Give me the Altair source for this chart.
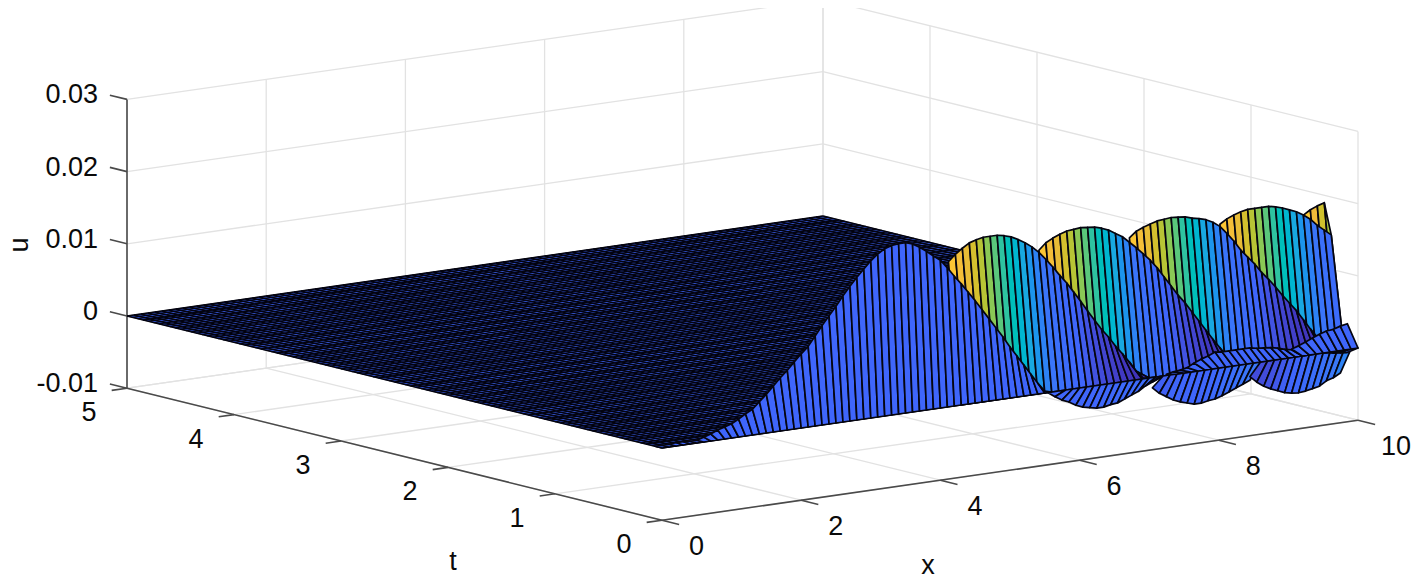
import altair as alt
import pandas as pd

alt.data_transformers.disable_max_rows()

# ---- axis ticks ----
x_ticks = [0, 2, 4, 6, 8, 10]
t_ticks = [0, 1, 2, 3, 4, 5]
u_ticks = [-0.01, 0, 0.01, 0.02, 0.03]
u_labels = ["-0.01", "0", "0.01", "0.02", "0.03"]
U_MIN, U_MAX = -0.01, 0.03
X_MAX, T_MAX = 10, 5

# ---- surface sheets: grid position along x, height at the far edge, colour value ----
wall1_x0 = 0.0
wall1_u = [0, 0, 0, .0001, .0001, 0, 0, .0003, .0006, .0010, .0013, .0016, .0021, .0027, .0032, .0041,
           .0050, .0060, .0070, .0079, .0089, .0099, .0108, .0121, .0134, .0146, .0158, .0171, .0183,
           .0194, .0204, .0214, .0222, .0228, .0231, .0232, .0232, .0229, .0223, .0216, .0208, .0201,
           .0189, .0176, .0164, .0151, .0138, .0124, .0110, .0096, .0082, .0067, .0053, .0039, .0025,
           .0011, -.0001]
wall2_x0 = 4.3
wall2_u = [.0194, .0203, .0210, .0216, .0219, .0221, .0221, .0221, .0219, .0216, .0211, .0205, .0198,
           .0189, .0178, .0166, .0153, .0141, .0127, .0113, .0098, .0084, .0070, .0058, .0044, .0032,
           .0019, .0005, -.0006]
wall3_x0 = 5.6
wall3_u = [.0192, .0201, .0206, .0210, .0213, .0214, .0215, .0214, .0213, .0210, .0206, .0200, .0194,
           .0185, .0176, .0166, .0156, .0144, .0130, .0116, .0102, .0090, .0076, .0062, .0048, .0034,
           .0021, .0008]
wall4_x0 = 6.9
wall4_u = [.0191, .0199, .0203, .0206, .0209, .0210, .0211, .0210, .0209, .0206, .0204, .0201, .0196,
           .0189, .0178, .0166, .0152, .0141, .0130, .0117, .0106, .0094, .0081, .0069, .0057, .0043,
           .0029, .0016]
wall5_x0 = 8.2
wall5_u = [.0192, .0198, .0202, .0205, .0207, .0207, .0207, .0207, .0205, .0202, .0198, .0194, .0188,
           .0181, .0171, .0163, .0155]
wall6_x0 = 9.4
wall6_u = [.0188, .0194, .0198, .0201, .0155]
wall_colors = [.0245, .0232, .0220, .0208, .0195, .0180, .0165, .0150, .0135, .0118, .0100, .0080, .0060,
               .0042, .0028, .0016, .0007, 0, -.0007, -.0015, -.0020, -.0026, -.0030, -.0035, -.0038,
               -.0040, -.0042, -.0043, -.0044]
wall6_colors = [.0250, .0225, .0205, .0190, .0190]

ripple1_x0 = 5.7
ripple1_u = [-.0006, -.0013, -.0019, -.0023, -.0029, -.0033, -.0035, -.0037, -.0037, -.0035, -.0034,
             -.0030, -.0026, -.0022, -.0016, -.0012, -.0006]
ripple1_c = [0, 0, 0, 0, 0, 0, 0, .0005, .0005, .001, .001, .001, .0015, .0015, .002, .002, .002]
ripple2_x0 = 7.2
ripple2_u = [-.0020, -.0029, -.0035, -.0041, -.0045, -.0048, -.0051, -.0051, -.0049, -.0048, -.0045,
             -.0041, -.0037, -.0033, -.0029]
ripple2_c = [-.0005, -.0005, 0, 0, 0, 0, 0, .0005, .001, .0015, .002, .003, .004, .005, .006]
ripple3_x0 = 8.6
ripple3_u = [-.0024, -.0033, -.0040, -.0045, -.0049, -.0053, -.0055, -.0056, -.0055, -.0053, -.0051,
             -.0045, -.0042, -.0037]
ripple3_c = [-.002, -.002, -.0015, -.001, -.0005, 0, .0005, .0015, .002, .003, .004, .005, .006, .007]
leafA_x0 = 7.4
leafA_u = [-.0004, -.0002, -.0001, .0001, .0006, .0010, .0013, .0017, .0016, .0016, .0016, .0016, .0016,
           .0014, .0013, .0012, .0010, .0007, .0005, .0002, -.0001]
leafB_x0 = 9.2
leafB_u = [.0006, .0009, .0013, .0017, .0021, .0024, .0025, .0028, .0030]
leafC_x0 = 9.5
leafC_u = [-.0004, -.0005, -.0006, -.0008, -.0009, -.0010]

# (first x, heights, colour values, t of the far edge)
sheets = [
    (wall6_x0, wall6_u, wall6_colors, .12),
    (wall5_x0, wall5_u, wall_colors, .12),
    (wall4_x0, wall4_u, wall_colors, .12),
    (wall3_x0, wall3_u, wall_colors, .12),
    (wall2_x0, wall2_u, wall_colors, .12),
    (wall1_x0, wall1_u, [0] * len(wall1_u), .065),
    (ripple1_x0, ripple1_u, ripple1_c, .10),
    (ripple2_x0, ripple2_u, ripple2_c, .10),
    (ripple3_x0, ripple3_u, ripple3_c, .10),
    (leafA_x0, leafA_u, [0] * len(leafA_u), .10),
    (leafC_x0, leafC_u, [0] * len(leafC_u), .10),
    (leafB_x0, leafB_u, [0] * len(leafB_u), .10),
]

# colour map (parula-like), keyed by u
cmap_u = [-.005, 0, .005, .0075, .01, .0125, .015, .0175, .02, .0225, .025, .03]
cmap_c = ["#3e26a8", "#3f66fb", "#3a78f8", "#2a90ee", "#18a8e0", "#0dbbc8", "#2ec3a0", "#7cc860",
          "#c6c22c", "#f0ba3a", "#fec832", "#f9fb15"]


# oblique view of the box, in picture units
def proj(x, t, u):
    return 662 + 69.6 * x - 107 * t, 448 - 10 * x - 26.4 * t - 7220 * u


def seg(a, b):
    p, q = proj(*a), proj(*b)
    return {"x0": p[0], "y0": p[1], "x1": q[0], "y1": q[1]}


# quads of the steep sheets
rows = []
qid = 0
for x0, us, cs, tw in sheets:
    for i in range(len(us) - 1):
        xa, xb = x0 + 0.1 * i, x0 + 0.1 * (i + 1)
        corners = [(xa, 0, 0), (xb, 0, 0), (xb, tw, us[i + 1]), (xa, tw, us[i]), (xa, 0, 0)]
        for k, c in enumerate(corners):
            px, py = proj(*c)
            rows.append({"px": px, "py": py, "k": k, "q": qid, "c": cs[i]})
        qid += 1
quads = pd.DataFrame(rows)

# flat sheet
flat_rows = []
for k, c in enumerate([(0, 0, 0), (10, 0, 0), (10, 5, 0), (0, 5, 0), (0, 0, 0)]):
    px, py = proj(*c)
    flat_rows.append({"px": px, "py": py, "k": k, "q": 0, "c": 0})
flat = pd.DataFrame(flat_rows)

mesh = [seg((i / 10, 0, 0), (i / 10, 5, 0)) for i in range(101)]
mesh += [seg((0, j / 20, 0), (10, j / 20, 0)) for j in range(101)]
mesh = pd.DataFrame(mesh)

# grid and box
grid = []
for x in x_ticks:
    grid.append(seg((x, 0, U_MIN), (x, T_MAX, U_MIN)))
    grid.append(seg((x, T_MAX, U_MIN), (x, T_MAX, U_MAX)))
for t in t_ticks:
    grid.append(seg((0, t, U_MIN), (X_MAX, t, U_MIN)))
    grid.append(seg((X_MAX, t, U_MIN), (X_MAX, t, U_MAX)))
for u in u_ticks:
    grid.append(seg((0, T_MAX, u), (X_MAX, T_MAX, u)))
    grid.append(seg((X_MAX, T_MAX, u), (X_MAX, 0, u)))
grid = pd.DataFrame(grid)

axes = [seg((0, T_MAX, U_MIN), (0, T_MAX, U_MAX)), seg((0, 0, U_MIN), (0, T_MAX, U_MIN)),
        seg((0, 0, U_MIN), (X_MAX, 0, U_MIN))]
for u in u_ticks:
    axes.append(seg((0, T_MAX, u), (0, T_MAX + 0.16, u)))
for t in t_ticks:
    axes.append(seg((0, t, U_MIN), (-0.22, t, U_MIN)))
for x in x_ticks:
    axes.append(seg((x, 0, U_MIN), (x, -0.16, U_MIN)))
axes = pd.DataFrame(axes)

labels = []
for u, s in zip(u_ticks, u_labels):
    p = proj(0, T_MAX, u)
    labels.append({"px": p[0] - 29, "py": p[1] - 4, "s": s, "a": "right"})
for t in t_ticks:
    p = proj(0, t, U_MIN)
    labels.append({"px": p[0] - 38, "py": p[1] + 25, "s": str(t), "a": "center"})
for x in x_ticks:
    p = proj(x, 0, U_MIN)
    labels.append({"px": p[0] + (27 if x < 10 else 23), "py": p[1] + 27, "s": str(x), "a": "left"})
labels = pd.DataFrame(labels)

W, H = 1403, 574
X = alt.Scale(domain=[8, 8 + W], nice=False, zero=False)
Y = alt.Scale(domain=[8 + H, 8], nice=False, zero=False)
FONT = "Liberation Sans"
pxe = alt.X("px:Q", scale=X, axis=None)
pye = alt.Y("py:Q", scale=Y, axis=None)


def rules(df, color, width):
    return alt.Chart(df).mark_rule(color=color, strokeWidth=width).encode(
        x=alt.X("x0:Q", scale=X, axis=None), y=alt.Y("y0:Q", scale=Y, axis=None), x2="x1:Q", y2="y1:Q")


fill = alt.Fill("c:Q", scale=alt.Scale(domain=cmap_u, range=cmap_c), legend=None)


def polys(df, sw):
    return alt.Chart(df).mark_line(stroke="#050510", strokeWidth=sw, strokeJoin="round").encode(
        x=pxe, y=pye, detail="q:N", order="k:Q", fill=fill)


def texts(df, align, angle=0):
    return alt.Chart(df).mark_text(font=FONT, fontSize=27, color="#0a0a0a", baseline="middle",
                                   align=align, angle=angle).encode(x=pxe, y=pye, text="s:N")


titles = pd.DataFrame({"px": [453, 928], "py": [562, 566], "s": ["t", "x"]})
u_title = pd.DataFrame({"px": [20], "py": [245], "s": ["u"]})

chart = alt.layer(
    rules(grid, "#e2e2e2", 1.3),
    rules(axes, "#4a4a4a", 1.6),
    polys(flat, 0.5),
    rules(mesh, "#03030f", 1.4),
    polys(quads, 1.7),
    texts(labels[labels.a == "right"], "right"),
    texts(labels[labels.a == "center"], "center"),
    texts(labels[labels.a == "left"], "left"),
    texts(titles, "center"),
    texts(u_title, "center", 270),
).properties(width=W, height=H, padding=0, autosize=alt.AutoSizeParams(type="none")
).configure_view(stroke=None)

chart.save("out.html", embed_options={"renderer": "svg", "actions": False})
